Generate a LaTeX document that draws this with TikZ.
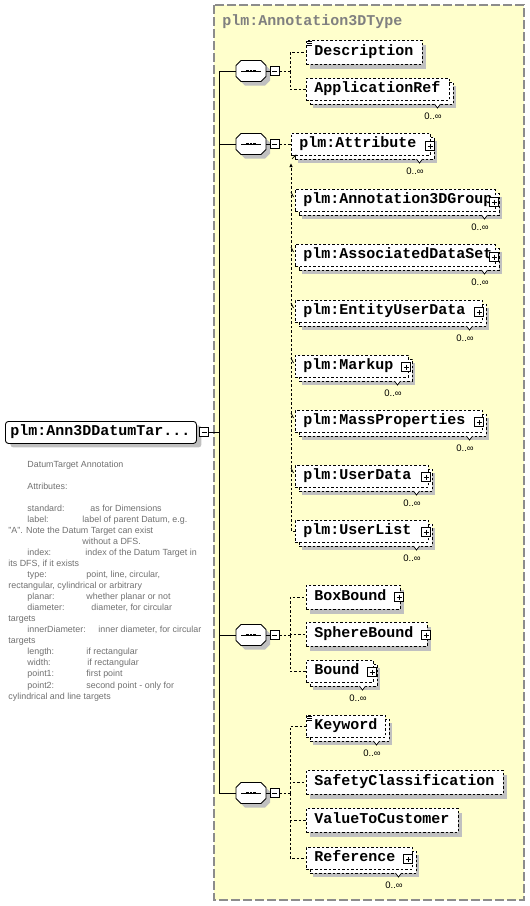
\documentclass[tikz,border=0pt]{standalone}
\usepackage{fontspec}
\setmainfont{Liberation Sans}
\newfontfamily\monofam{Liberation Mono}
\usetikzlibrary{shadows,arrows.meta}
\definecolor{bgyellow}{HTML}{FFFFCC}
\definecolor{bordergray}{HTML}{8C8C8C}
\definecolor{shadowgray}{HTML}{C0C0C0}
\definecolor{anngray}{HTML}{707070}
\definecolor{titlegray}{HTML}{808080}
\newcommand\elfont{\monofam\bfseries\fontsize{15}{15}\selectfont}
\newcommand\annfont{\fontsize{8.9}{11}\selectfont}
\newcommand\multfont{\fontsize{9.5}{11}\selectfont}
\newcommand\eltxt[2]{\makebox[#1pt][l]{#2}}
\newcommand\vnotch[1]{\filldraw[fill=white, line width=0.7pt, solid] ([shift={(1.5pt,12pt)}]#1.center) -- ([shift={(4.5pt,8pt)}]#1.center) -- ([shift={(7.5pt,12pt)}]#1.center);}
\newcommand\docicon[1]{\draw[line width=0.6pt, solid] ([shift={(1pt,-1pt)}]#1.north west) -- ++(5pt,0pt) ([shift={(1pt,-3pt)}]#1.north west) -- ++(5pt,0pt) ([shift={(1pt,-5pt)}]#1.north west) -- ++(5pt,0pt);}
\newcommand\octo[1]{%
  \fill[shadowgray] ([shift={(-11pt,1.5pt)}]#1.center) -- ++(5pt,5pt) -- ++(20pt,0pt) -- ++(5pt,-5pt) -- ++(0pt,-11pt) -- ++(-5pt,-5pt) -- ++(-20pt,0pt) -- ++(-5pt,5pt) -- cycle;
  \filldraw[fill=white, solid, line width=0.9pt] ([shift={(-15pt,5.5pt)}]#1.center) -- ++(5pt,5pt) -- ++(20pt,0pt) -- ++(5pt,-5pt) -- ++(0pt,-11pt) -- ++(-5pt,-5pt) -- ++(-20pt,0pt) -- ++(-5pt,5pt) -- cycle;
  \draw[line width=0.9pt, solid] ([xshift=-10pt]#1.center) -- ([xshift=10pt]#1.center);
  \fill ([shift={(-4.8pt,-1.3pt)}]#1.center) rectangle ++(2.6pt,2.6pt);
  \fill ([shift={(-1.3pt,-1.3pt)}]#1.center) rectangle ++(2.6pt,2.6pt);
  \fill ([shift={(2.2pt,-1.3pt)}]#1.center) rectangle ++(2.6pt,2.6pt);}
\newcommand\subtick[1]{\draw[line width=0.7pt, solid] ([shift={(-4pt,-3pt)}]#1.north west) -- ([shift={(-1.5pt,-8pt)}]#1.north west);}
\begin{document}
\begin{tikzpicture}[x=1pt,y=-1pt,line width=0.9pt,
  ebox/.style={draw, fill=white, dash pattern=on 2.5pt off 2pt, inner xsep=8pt, inner ysep=0pt, text height=10pt, text depth=3pt, font=\elfont, anchor=north west},
  single/.style={ebox, minimum height=24pt, general shadow={fill=shadowgray, shadow xshift=4pt, shadow yshift=-5pt}},
  multi/.style={ebox, minimum height=22pt, general shadow={fill=shadowgray, shadow xshift=7pt, shadow yshift=-8pt}, general shadow={fill=white, draw=black, dash pattern=on 2.5pt off 2pt, line width=0.9pt, shadow xshift=4pt, shadow yshift=-4pt}},
  rootbox/.style={draw, fill=white, solid, rounded corners=3pt, inner xsep=5pt, inner ysep=0pt, minimum height=22pt, text height=10pt, text depth=3pt, font=\elfont, anchor=north west, general shadow={fill=shadowgray, shadow xshift=5pt, shadow yshift=-4pt}},
  seq/.style={rectangle, draw=none, minimum width=30pt, minimum height=21pt, inner sep=0pt},
  plusbox/.style={draw, fill=white, solid, line width=0.8pt, minimum size=9pt, inner sep=0pt, path picture={\draw[line width=0.8pt] ([xshift=2pt]path picture bounding box.west) -- ([xshift=-2pt]path picture bounding box.east) ([yshift=-2pt]path picture bounding box.north) -- ([yshift=2pt]path picture bounding box.south);}},
  minusbox/.style={draw, fill=white, solid, line width=0.8pt, minimum size=9pt, inner sep=0pt, path picture={\draw[line width=0.8pt] ([xshift=2pt]path picture bounding box.west) -- ([xshift=-2pt]path picture bounding box.east);}},
  mult/.style={inner sep=0pt, font=\multfont},
  ann/.style={anchor=base west, inner sep=0pt, font=\annfont, text=anngray},
  dline/.style={dash pattern=on 2.5pt off 2pt}
]
\useasboundingbox (0,0) rectangle (530,906);
\filldraw[fill=bgyellow, draw=bordergray, line width=1.3pt, dash pattern=on 9pt off 3pt] (214,5) rectangle (524,900);
\node[anchor=base west, inner sep=0pt, font=\elfont, text=titlegray] (title) at (222,25.5) {plm:Annotation3DType};

% root element
\node[rootbox] (root) at (5,421) {\eltxt{181}{plm:Ann3DDatumTar...}};
\node[minusbox] (rootm) at (204,432) {};
\coordinate (mj) at (219,432);

% annotation
\node[ann] (a0) at (27,467) {DatumTarget Annotation};
\node[ann] (a2) at (27,489.1) {Attributes:};
\node[ann] (a4l) at (27,511.2) {standard:};
\node[ann] (a4v) at (90,511.2) {as for Dimensions};
\node[ann] (a5l) at (27,522.25) {label:};
\node[ann] (a5v) at (82,522.25) {label of parent Datum, e.g.};
\node[ann] (a6) at (8,533.3) {"A". Note the Datum Target can exist};
\node[ann] (a7) at (82,544.35) {without a DFS.};
\node[ann] (a8l) at (27,555.4) {index:};
\node[ann] (a8v) at (85,555.4) {index of the Datum Target in};
\node[ann] (a9) at (8,566.45) {its DFS, if it exists};
\node[ann] (a10l) at (27,577.5) {type:};
\node[ann] (a10v) at (86,577.5) {point, line, circular,};
\node[ann] (a11) at (8,588.55) {rectangular, cylindrical or arbitrary};
\node[ann] (a12l) at (27,599.6) {planar:};
\node[ann] (a12v) at (86,599.6) {whether planar or not};
\node[ann] (a13l) at (27,610.65) {diameter:};
\node[ann] (a13v) at (91,610.65) {diameter, for circular};
\node[ann] (a14) at (8,621.7) {targets};
\node[ann] (a15l) at (27,632.75) {innerDiameter:};
\node[ann] (a15v) at (98,632.75) {inner diameter, for circular};
\node[ann] (a16) at (8,643.8) {targets};
\node[ann] (a17l) at (27,654.85) {length:};
\node[ann] (a17v) at (86,654.85) {if rectangular};
\node[ann] (a18l) at (27,665.9) {width:};
\node[ann] (a18v) at (87,665.9) {if rectangular};
\node[ann] (a19l) at (27,676.95) {point1:};
\node[ann] (a19v) at (86,676.95) {first point};
\node[ann] (a20l) at (27,688) {point2:};
\node[ann] (a20v) at (86,688) {second point - only for};
\node[ann] (a21) at (8,699.05) {cylindrical and line targets};

% compositors
\node[seq] (s1) at (251,71) {}; \octo{s1}
\node[minusbox] (s1m) at (274.5,71) {};
\node[seq] (s2) at (251,144) {}; \octo{s2}
\node[minusbox] (s2m) at (274.5,144) {};
\node[seq] (s3) at (251,635) {}; \octo{s3}
\node[minusbox] (s3m) at (274.5,635) {};
\node[seq] (s4) at (251,793) {}; \octo{s4}
\node[minusbox] (s4m) at (274.5,793) {};
\foreach \s in {s1,s2,s3,s4} {\draw[solid] (\s.east) -- (\s m.west);}

% main connectors
\draw[solid] (rootm.east) -- (mj);
\draw[solid] (mj) |- (s1.west);
\draw[solid] (mj) |- (s2.west);
\draw[solid] (mj) |- (s3.west);
\draw[solid] (mj) |- (s4.west);

% seq1 children
\node[single] (desc) at (306,40) {\eltxt{100}{Description}};
\docicon{desc}
\node[multi] (appref) at (306,78) {\eltxt{127}{ApplicationRef}};
\node[mult] (appref-m) at (433,116) {0..∞}; \vnotch{appref-m}
\coordinate (s1j) at (290,71);
\draw[dline] (s1m.east) -- (s1j) |- (desc.west);
\draw[dline] (s1j) |- (appref.west);

% seq2 children (substitution group)
\node[multi] (attr) at (291,133) {\eltxt{123}{plm:Attribute}};
\node[plusbox] (attr-p) at (430,146) {};
\node[mult] (attr-m) at (415,171) {0..∞}; \vnotch{attr-m}
\node[multi] (a3g) at (295,189) {\eltxt{184}{plm:Annotation3DGroup}};
\node[plusbox] (a3g-p) at (494,202) {};
\node[mult] (a3g-m) at (480,227) {0..∞}; \vnotch{a3g-m}
\node[multi] (ads) at (295,244) {\eltxt{184}{plm:AssociatedDataSet}};
\node[plusbox] (ads-p) at (494,257) {};
\node[mult] (ads-m) at (480,282) {0..∞}; \vnotch{ads-m}
\node[multi] (eud) at (295,300) {\eltxt{171}{plm:EntityUserData}};
\node[plusbox] (eud-p) at (479,312) {};
\node[mult] (eud-m) at (465,338) {0..∞}; \vnotch{eud-m}
\node[multi] (markup) at (295,355) {\eltxt{97}{plm:Markup}};
\node[plusbox] (markup-p) at (406,367) {};
\node[mult] (markup-m) at (393,393) {0..∞}; \vnotch{markup-m}
\node[multi] (mass) at (295,410) {\eltxt{171}{plm:MassProperties}};
\node[plusbox] (mass-p) at (479,422) {};
\node[mult] (mass-m) at (465,448) {0..∞}; \vnotch{mass-m}
\node[multi] (udata) at (295,465) {\eltxt{117}{plm:UserData}};
\node[plusbox] (udata-p) at (426,477) {};
\node[mult] (udata-m) at (412,503) {0..∞}; \vnotch{udata-m}
\node[multi] (ulist) at (295,520) {\eltxt{117}{plm:UserList}};
\node[plusbox] (ulist-p) at (426,532) {};
\node[mult] (ulist-m) at (412,558) {0..∞}; \vnotch{ulist-m}
\draw[dline] (s2m.east) -- (s2m.east -| attr.west);
\coordinate (subtop) at (291,163);
\draw[dline, -{Latex[length=4pt,width=3.5pt]}] (ulist.west) -- (ulist.west -| subtop) -- (subtop);
\draw[line width=0.7pt, -{Latex[length=3pt,width=3pt]}] ([shift={(1pt,-3pt)}]attr.south west) -- ([shift={(5.5pt,1.5pt)}]attr.south west);
\foreach \b in {a3g,ads,eud,markup,mass,udata} {\subtick{\b}}

% seq3 children
\node[single] (boxb) at (306,585) {\eltxt{78}{BoxBound}};
\node[plusbox] (boxb-p) at (399,597) {};
\node[single] (sphb) at (306,622) {\eltxt{105}{SphereBound}};
\node[plusbox] (sphb-p) at (426,635) {};
\node[multi] (bound) at (306,660) {\eltxt{51}{Bound}};
\node[plusbox] (bound-p) at (372,672) {};
\node[mult] (bound-m) at (358,698) {0..∞}; \vnotch{bound-m}
\coordinate (s3j) at (290,635);
\draw[dline] (s3m.east) -- (s3j);
\draw[dline] (s3j) |- (boxb.west);
\draw[dline] (s3j) |- (sphb.west);
\draw[dline] (s3j) |- (bound.west);

% seq4 children
\node[multi] (kw) at (306,715) {\eltxt{63}{Keyword}};
\docicon{kw}
\node[mult] (kw-m) at (372,753) {0..∞}; \vnotch{kw-m}
\node[single] (safety) at (306,770) {\eltxt{181}{SafetyClassification}};
\node[single] (vtc) at (306,808) {\eltxt{136}{ValueToCustomer}};
\node[multi] (ref) at (306,847) {\eltxt{90}{Reference}};
\node[plusbox] (ref-p) at (408,859) {};
\node[mult] (ref-m) at (394,885) {0..∞}; \vnotch{ref-m}
\coordinate (s4j) at (290,793);
\draw[dline] (s4m.east) -- (s4j);
\draw[dline] (s4j) |- (kw.west);
\draw[dline] (s4j) |- (safety.west);
\draw[dline] (s4j) |- (vtc.west);
\draw[dline] (s4j) |- (ref.west);
\end{tikzpicture}
\end{document}
